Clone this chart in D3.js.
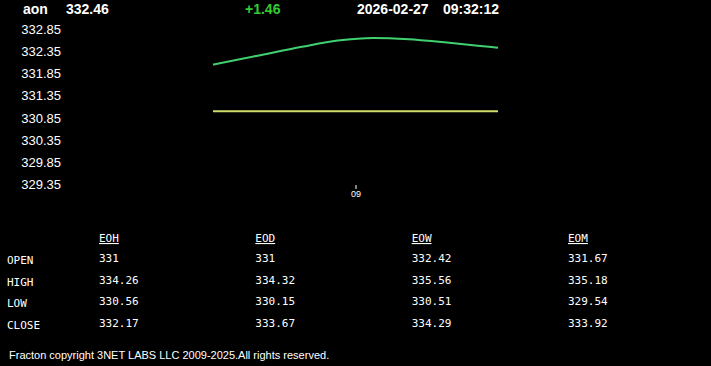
<!DOCTYPE html>
<html>
<head>
<meta charset="utf-8">
<script src="https://cdn.jsdelivr.net/npm/d3@7"></script>
<style>
    body { margin: 0; background: #000; }
    svg { display: block; }
    .mono { font-family: "DejaVu Sans Mono", monospace; font-size: 11px; fill: #fff; }
</style>
</head>
<body>
<svg id="chart" width="711" height="366"></svg>
<script>
// header
const symbol = 'aon'
const lastPrice = '332.46'
const change = '+1.46'
const quoteDate = '2026-02-27'
const quoteTime = '09:32:12'

// price series (minutes of the session)
const times = ['08:28', '08:38', '08:48', '08:56', '09:04', '09:12', '09:20', '09:28', '09:32']
const prices = [332.05, 332.25, 332.45, 332.59, 332.65, 332.62, 332.55, 332.47, 332.43]
const openPrice = 331

// axes
const yTicks = [332.85, 332.35, 331.85, 331.35, 330.85, 330.35, 329.85, 329.35]
const xTicks = ['09:00']

// table
const columns = ['EOH', 'EOD', 'EOW', 'EOM']
const rowLabels = ['OPEN', 'HIGH', 'LOW', 'CLOSE']
const eoh = [331, 334.26, 330.56, 332.17]
const eod = [331, 334.32, 330.15, 333.67]
const eow = [332.42, 335.56, 330.51, 334.29]
const eom = [331.67, 335.18, 329.54, 333.92]

const footer = 'Fracton copyright 3NET LABS LLC 2009-2025.All rights reserved.'

const parseTime = d3.timeParse('%H:%M')
const svg = d3.select('#chart')

// header texts
const header = svg.append('g')
    .style('font-family', 'Arial, "Liberation Sans", sans-serif')
    .style('font-size', '14px')
    .style('font-weight', 'bold')
header.append('text').attr('x', 23).attr('y', 14).attr('fill', '#fff').text(symbol)
header.append('text').attr('x', 66).attr('y', 14).attr('fill', '#fff').text(lastPrice)
header.append('text').attr('x', 245).attr('y', 14).attr('fill', '#33cc33').text(change)
header.append('text').attr('x', 357).attr('y', 14).attr('fill', '#fff').text(quoteDate)
header.append('text').attr('x', 443).attr('y', 14).attr('fill', '#fff').text(quoteTime)

// scales
const x = d3.scaleTime()
    .domain([parseTime(times[0]), parseTime(times[times.length - 1])])
    .range([213, 498])
const y = d3.scaleLinear()
    .domain([329.35, 332.85])
    .range([184.5, 29])

// y axis, labels only
svg.append('g')
    .attr('transform', 'translate(61,0)')
    .call(d3.axisLeft(y).tickValues(yTicks).tickSize(0).tickPadding(0).tickFormat(d3.format('.2f')))
    .call(g => g.select('.domain').remove())
    .selectAll('text')
    .attr('fill', '#fff')
    .style('font-family', 'Arial, "Liberation Sans", sans-serif')
    .style('font-size', '13px')

// x axis
const xAxis = svg.append('g')
    .attr('transform', 'translate(0,185)')
    .call(d3.axisBottom(x).tickValues(xTicks.map(parseTime)).tickSize(4).tickPadding(2).tickFormat(d3.timeFormat('%H')))
xAxis.select('.domain').remove()
xAxis.selectAll('line').attr('stroke', '#fff')
xAxis.selectAll('text')
    .attr('fill', '#fff')
    .style('font-family', 'Arial, "Liberation Sans", sans-serif')
    .style('font-size', '9px')

// open line
svg.append('line')
    .attr('x1', x.range()[0])
    .attr('x2', x.range()[1])
    .attr('y1', y(openPrice))
    .attr('y2', y(openPrice))
    .attr('stroke', '#d0dc6a')
    .attr('stroke-width', 2)

// price line
const line = d3.line()
    .x((d, i) => x(parseTime(times[i])))
    .y(d => y(d))
    .curve(d3.curveMonotoneX)

svg.append('path')
    .datum(prices)
    .attr('fill', 'none')
    .attr('stroke', '#40d070')
    .attr('stroke-width', 2)
    .attr('d', line)

// table
const colX = d3.scalePoint().domain(columns).range([99, 568])
const rowY = d3.scalePoint().domain(rowLabels).range([262, 327])
const tableData = [eoh, eod, eow, eom]

const table = svg.append('g').attr('class', 'mono')
table.selectAll('.col-head')
    .data(columns)
    .enter().append('text')
    .attr('class', 'mono')
    .attr('x', d => colX(d))
    .attr('y', 242)
    .style('text-decoration', 'underline')
    .text(d => d)

table.selectAll('.row-label')
    .data(rowLabels)
    .enter().append('text')
    .attr('class', 'mono')
    .attr('x', 7)
    .attr('y', d => rowY(d) + 2)
    .text(d => d)

columns.forEach((col, c) => {
    table.selectAll('.cell-' + col)
        .data(tableData[c])
        .enter().append('text')
        .attr('class', 'mono')
        .attr('x', colX(col))
        .attr('y', (d, i) => rowY(rowLabels[i]))
        .text(d => d)
})

// footer
svg.append('text')
    .attr('x', 9)
    .attr('y', 359)
    .attr('fill', '#fff')
    .style('font-family', 'Arial, "Liberation Sans", sans-serif')
    .style('font-size', '11px')
    .text(footer)
</script>
</body>
</html>
